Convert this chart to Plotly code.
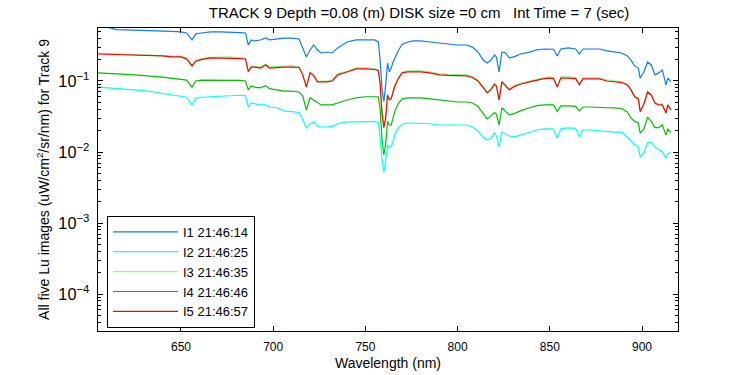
import plotly.graph_objects as go

wavelength = [605, 610, 615, 620, 625, 630, 635, 640, 645, 650,
              653, 656, 658, 661, 666, 671, 676, 682, 685, 686.5,
              688, 690, 693, 696, 698, 702, 706, 710, 714, 716,
              718, 720, 722, 724, 726, 729, 732, 735, 740, 745,
              750, 755, 757, 758, 759, 760, 761, 762, 763, 764,
              765, 766, 768, 770, 773, 776, 780, 785, 790, 795,
              800, 805, 808, 811, 814, 816, 818, 820, 821, 822.5,
              824, 826, 828, 831, 834, 839, 843, 847, 850, 852,
              854, 856, 860, 864, 866, 868, 872, 877, 881, 885,
              889, 892, 894, 896, 898, 899, 901, 903, 905, 907,
              909, 911, 913, 914, 915.7]

i1_values = [0.615, 0.577, 0.53, 0.523, 0.52, 0.51, 0.505, 0.505, 0.50, 0.49,
             0.474, 0.378, 0.46, 0.474, 0.49, 0.49, 0.49, 0.48, 0.474, 0.321,
             0.378, 0.366, 0.378, 0.404, 0.378, 0.39, 0.40, 0.40, 0.39, 0.292,
             0.218, 0.273, 0.321, 0.273, 0.248, 0.256, 0.248, 0.292, 0.354, 0.378,
             0.378, 0.378, 0.354, 0.196, 0.075, 0.051, 0.088, 0.179, 0.134, 0.152,
             0.185, 0.211, 0.273, 0.33, 0.354, 0.366, 0.366, 0.354, 0.343, 0.33,
             0.321, 0.321, 0.30, 0.256, 0.196, 0.179, 0.196, 0.232, 0.218, 0.134,
             0.256, 0.248, 0.211, 0.22, 0.24, 0.255, 0.275, 0.282, 0.282, 0.28,
             0.225, 0.282, 0.292, 0.282, 0.240, 0.282, 0.282, 0.282, 0.265, 0.256,
             0.248, 0.225, 0.196, 0.163, 0.152, 0.110, 0.134, 0.185, 0.168, 0.122,
             0.13, 0.143, 0.088, 0.110, 0.097]

i2_values = [0.082, 0.08, 0.079, 0.077, 0.076, 0.073, 0.07, 0.067, 0.063, 0.060,
             0.059, 0.046, 0.057, 0.059, 0.060, 0.061, 0.063, 0.063, 0.062, 0.043,
             0.049, 0.048, 0.046, 0.046, 0.043, 0.042, 0.038, 0.037, 0.036, 0.029,
             0.0218, 0.025, 0.0265, 0.023, 0.0225, 0.0225, 0.023, 0.025, 0.0265, 0.0265,
             0.027, 0.027, 0.026, 0.016, 0.008, 0.0052, 0.0075, 0.0126, 0.0114, 0.0118,
             0.0138, 0.018, 0.022, 0.0248, 0.0256, 0.0256, 0.0256, 0.025, 0.024, 0.024,
             0.024, 0.024, 0.0225, 0.020, 0.016, 0.0148, 0.0155, 0.0185, 0.017, 0.0118,
             0.0191, 0.018, 0.0168, 0.0163, 0.0173, 0.019, 0.0204, 0.0212, 0.0212, 0.021,
             0.0157, 0.0212, 0.0218, 0.0215, 0.0163, 0.0204, 0.0204, 0.0198, 0.0195, 0.0191,
             0.019, 0.0163, 0.0145, 0.0126, 0.0118, 0.0085, 0.0097, 0.0135, 0.0138, 0.0118,
             0.011, 0.010, 0.0082, 0.0095, 0.0097]

i3_values = [0.245, 0.242, 0.24, 0.238, 0.236, 0.235, 0.232, 0.23, 0.224, 0.222,
             0.21, 0.166, 0.195, 0.206, 0.216, 0.218, 0.218, 0.212, 0.208, 0.138,
             0.162, 0.162, 0.157, 0.173, 0.158, 0.161, 0.163, 0.163, 0.16, 0.126,
             0.084, 0.134, 0.122, 0.1, 0.1, 0.1, 0.103, 0.126, 0.138, 0.153,
             0.153, 0.15, 0.144, 0.092, 0.036, 0.023, 0.031, 0.065, 0.056, 0.058,
             0.072, 0.088, 0.114, 0.134, 0.139, 0.139, 0.139, 0.135, 0.127, 0.124,
             0.122, 0.122, 0.116, 0.103, 0.082, 0.07, 0.078, 0.093, 0.088, 0.056,
             0.1, 0.088, 0.078, 0.087, 0.093, 0.1, 0.107, 0.112, 0.114, 0.112,
             0.085, 0.114, 0.114, 0.112, 0.091, 0.111, 0.111, 0.111, 0.104, 0.1,
             0.098, 0.091, 0.077, 0.062, 0.058, 0.038, 0.048, 0.072, 0.065, 0.05,
             0.047, 0.047, 0.036, 0.047, 0.04]

i4_values = [0.13, 0.127, 0.125, 0.124, 0.122, 0.12, 0.116, 0.113, 0.11, 0.107,
             0.103, 0.082, 0.10, 0.103, 0.103, 0.104, 0.104, 0.102, 0.10, 0.075,
             0.085, 0.082, 0.08, 0.086, 0.078, 0.0747, 0.072, 0.072, 0.07, 0.062,
             0.039, 0.058, 0.054, 0.05, 0.046, 0.046, 0.046, 0.049, 0.054, 0.058,
             0.06, 0.06, 0.06, 0.04, 0.015, 0.0091, 0.013, 0.027, 0.024, 0.024,
             0.03, 0.038, 0.049, 0.056, 0.058, 0.058, 0.058, 0.056, 0.054, 0.052,
             0.0506, 0.0506, 0.049, 0.044, 0.035, 0.0292, 0.032, 0.036, 0.034, 0.024,
             0.042, 0.037, 0.033, 0.035, 0.038, 0.042, 0.045, 0.046, 0.046, 0.046,
             0.037, 0.0445, 0.0445, 0.044, 0.038, 0.043, 0.043, 0.043, 0.042, 0.0417,
             0.041, 0.0366, 0.0301, 0.027, 0.0256, 0.0185, 0.021, 0.031, 0.027, 0.022,
             0.022, 0.024, 0.0173, 0.021, 0.019]

i5_values = [0.240, 0.238, 0.236, 0.235, 0.232, 0.232, 0.228, 0.225, 0.218, 0.218,
             0.205, 0.163, 0.19, 0.20, 0.211, 0.211, 0.211, 0.207, 0.204, 0.135,
             0.157, 0.157, 0.152, 0.168, 0.152, 0.155, 0.157, 0.157, 0.155, 0.122,
             0.082, 0.13, 0.118, 0.097, 0.097, 0.097, 0.10, 0.122, 0.134, 0.148,
             0.148, 0.145, 0.140, 0.09, 0.035, 0.022, 0.03, 0.063, 0.054, 0.056,
             0.07, 0.085, 0.11, 0.13, 0.134, 0.134, 0.134, 0.13, 0.122, 0.12,
             0.118, 0.118, 0.112, 0.10, 0.08, 0.068, 0.075, 0.09, 0.085, 0.054,
             0.097, 0.085, 0.075, 0.084, 0.09, 0.097, 0.103, 0.108, 0.11, 0.108,
             0.082, 0.11, 0.11, 0.108, 0.088, 0.107, 0.107, 0.107, 0.100, 0.097,
             0.095, 0.088, 0.075, 0.06, 0.056, 0.037, 0.047, 0.07, 0.0635, 0.049,
             0.046, 0.046, 0.0354, 0.046, 0.039]

series_names = ["I1 21:46:14", "I2 21:46:25", "I3 21:46:35", "I4 21:46:46", "I5 21:46:57"]
series_values = [i1_values, i2_values, i3_values, i4_values, i5_values]
series_colors = ["#0a7dff", "#00ffff", "#80ff80", "#00c000", "#ff0000"]

x_ticks = [650, 700, 750, 800, 850, 900]

FONT = "Liberation Sans, Arial, Helvetica, sans-serif"

fig = go.Figure()
for name, vals, col in zip(series_names, series_values, series_colors):
    fig.add_trace(go.Scatter(x=wavelength, y=vals, mode="lines", name=name,
                             line=dict(color=col, width=1.2)))

fig.update_layout(
    width=750, height=375,
    margin=dict(l=98, r=72, t=28, b=44, autoexpand=False),
    paper_bgcolor="white", plot_bgcolor="white",
    font=dict(family=FONT, size=13, color="black"),
    title=dict(text="TRACK 9 Depth =0.08 (m) DISK size =0 cm\u00a0\u00a0\u00a0Int Time = 7 (sec)",
               x=419 / 750, xanchor="center", xref="container",
               y=1 - 13 / 375, yanchor="middle", yref="container",
               font=dict(family=FONT, size=15, color="black")),
    showlegend=True,
    legend=dict(x=0.0155, y=0.38, xanchor="left", yanchor="top",
                bgcolor="white", bordercolor="black", borderwidth=1,
                font=dict(family=FONT, size=13, color="black"),
                tracegroupgap=0, itemwidth=65),
)

fig.update_xaxes(range=[605, 919.5], tickvals=x_ticks, ticks="inside", ticklen=5,
                 tickcolor="black", showline=True, linecolor="black", linewidth=1,
                 mirror="ticks", showgrid=False, zeroline=False, automargin=False,
                 ticklabelstandoff=5,
                 tickfont=dict(family=FONT, size=12),
                 title=dict(text="Wavelength (nm)", font=dict(family=FONT, size=14), standoff=4))

fig.update_yaxes(type="log", range=[-4.52, -0.254], dtick=1, exponentformat="power",
                 ticks="inside", ticklen=5, tickcolor="black", showline=True,
                 linecolor="black", linewidth=1, mirror="ticks", showgrid=False,
                 zeroline=False, automargin=False, ticklabelstandoff=5,
                 tickfont=dict(family=FONT, size=13),
                 minor=dict(ticks="inside", ticklen=3, dtick="D1", tickcolor="black", showgrid=False),
                 title=dict(text="All five Lu images (uW/cm<sup>2</sup>/sr/nm) for Track 9",
                            font=dict(family=FONT, size=14), standoff=5))

fig.write_html("out.html", config={"displayModeBar": False},
               post_script="document.body.style.margin='0';")
